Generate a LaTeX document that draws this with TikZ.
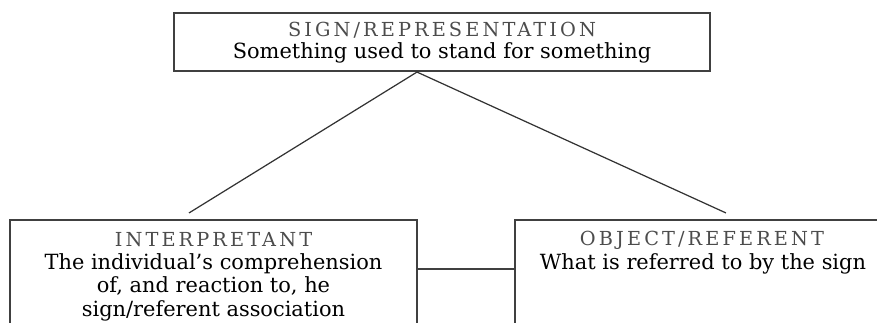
\documentclass[tikz,border=0pt]{standalone}
\usepackage{fontspec}
\setmainfont{DejaVu Serif}
\newfontfamily\headfont[LetterSpace=16]{DejaVu Serif}
\usetikzlibrary{calc}
\tikzset{
  box/.style={draw=black!75, line width=1.2pt, inner sep=0pt},
  head/.style={font=\headfont\fontsize{11}{13}\selectfont, text=black!70, inner sep=0pt},
  body/.style={font=\fontsize{11.9}{13.4}\selectfont, align=center, inner sep=0pt},
  link/.style={draw=black!80, line width=0.7pt}
}
\begin{document}
\begin{tikzpicture}[x=0.02cm,y=-0.02cm]
\useasboundingbox (0,0) rectangle (877,322);
\clip (0,0) rectangle (877,322);

% boxes
\node[box, minimum width=10.72cm, minimum height=1.16cm] (sign) at (442,42) {};
\node[box, minimum width=8.14cm, minimum height=2.4cm] (interp) at (213.5,280) {};
\node[box, minimum width=7.48cm, minimum height=2.4cm] (object) at (702,280) {};

% texts
\node[head] (signhead) at (442,30) {SIGN/REPRESENTATION};
\node[body] (signbody) at (442,53) {Something used to stand for something};
\node[head] (interphead) at (213.5,240) {INTERPRETANT};
\node[body] (interpbody) at (213.5,287) {The individual’s comprehension\\of, and reaction to, he\\sign/referent association};
\node[head] (objecthead) at (702,240) {OBJECT/REFERENT};
\node[body] (objectbody) at (703,264) {What is referred to by the sign};

% links
\coordinate (apex) at ($(sign.south west)+(244,0)$);
\coordinate (interptop) at ($(interp.north west)+(180,-6)$);
\coordinate (objecttop) at ($(object.north west)+(212,-6)$);
\draw[link] (interptop) -- (apex) -- (objecttop);
\draw[box] ($(interp.north east)+(0,50)$) -- ($(object.north west)+(0,50)$);
\end{tikzpicture}
\end{document}
